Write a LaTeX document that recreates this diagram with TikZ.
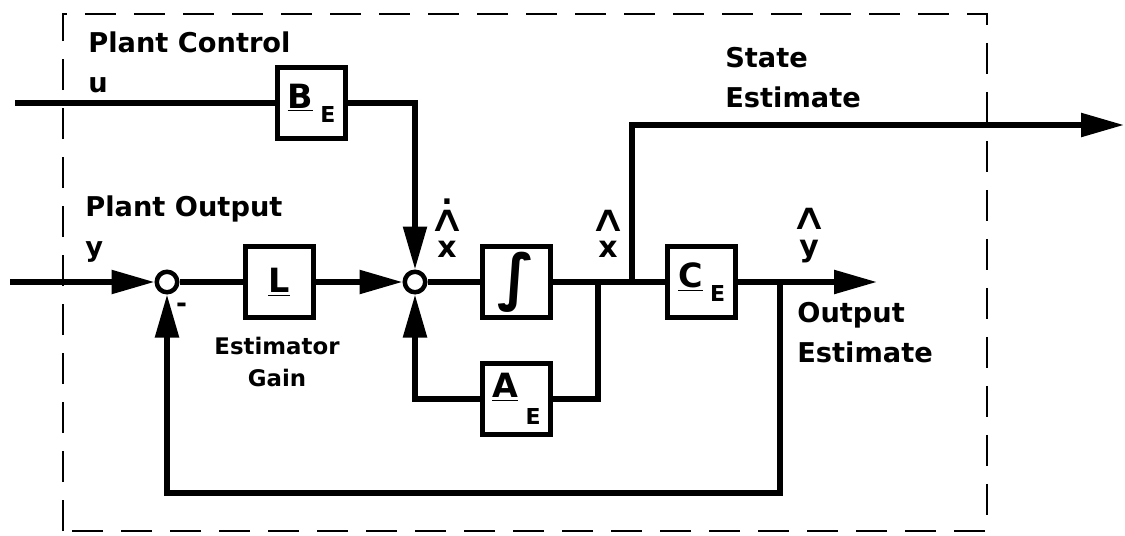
\documentclass[tikz,border=0pt]{standalone}
\usepackage{fontspec}
\usepackage{graphicx}
\setmainfont{DejaVu Sans}
\usetikzlibrary{positioning,arrows.meta,calc}
\tikzset{
  blk/.style={draw, line width=0.1cm, minimum width=1.36cm, minimum height=1.42cm,
    inner sep=0pt, font=\bfseries\fontsize{19}{19}\selectfont},
  sumpt/.style={circle, draw, line width=0.09cm, minimum size=0.41cm, inner sep=0pt},
  wire/.style={line width=0.11cm},
  sig/.style={wire, -{Triangle[length=0.86cm,width=0.46cm]}},
  lbl/.style={font=\bfseries\fontsize{15.5}{23}\selectfont, inner sep=0pt, align=left},
  gainlbl/.style={font=\bfseries\fontsize{13}{18}\selectfont, inner sep=0pt, align=center},
  hatlbl/.style={font=\bfseries\fontsize{17}{20}\selectfont, inner sep=0pt, align=center},
  frame/.style={line width=0.055cm, dash pattern=on 0.62cm off 0.36cm},
}
\newcommand{\subE}[1]{\hspace{0.15cm}\raisebox{#1}{\fontsize{12.5}{12.5}\selectfont E}}
\newcommand{\hatmark}{\scalebox{1.55}[1.1]{\mdseries\fontsize{19}{19}\selectfont ∧}}

\begin{document}
\begin{tikzpicture}[x=1cm,y=1cm]
\useasboundingbox (0,0) rectangle (22.5,10.7);
% estimator boundary
\draw[frame] (1.26,0.08) rectangle (19.74,10.42);
% blocks
\node[blk] (be) at (6.23,8.64) {\underline{B}\subE{-0.28cm}};
\node[sumpt] (sum1) at (3.34,5.06) {};
\node[blk] (gain) at (5.58,5.06) {\underline{L}};
\node[sumpt] (sum2) at (8.3,5.06) {};
\node[blk] (integ) at (10.33,5.06) {\fontsize{35}{35}\selectfont ∫};
\node[blk] (ae) at (10.33,2.72) {\underline{A}\subE{-0.55cm}};
\node[blk] (ce) at (14.03,5.06) {\underline{C}\subE{-0.28cm}};
% signal points
\coordinate (uin) at (0.3,8.64);
\coordinate (yin) at (0.2,5.06);
\coordinate (xtap) at (11.96,5.06);
\coordinate (stap) at (12.64,5.06);
\coordinate (xout) at (22.48,8.2);
\coordinate (ytap) at (15.6,5.06);
\coordinate (yout) at (17.54,5.06);
\coordinate (fbk) at (15.6,0.84);
% flows
\draw[wire] (uin) -- (be);
\draw[sig] (be) -| (sum2);
\draw[sig] (yin) -- (sum1);
\draw[wire] (sum1) -- (gain);
\draw[sig] (gain) -- (sum2);
\draw[wire] (sum2) -- (integ);
\draw[wire] (integ) -- (ce);
\draw[wire] (xtap) |- (ae);
\draw[sig] (ae) -| (sum2);
\draw[sig] (stap) |- (xout);
\draw[sig] (ce) -- (yout);
\draw[sig] (ytap) -- (fbk) -| (sum1);
% labels
\node[lbl, anchor=north west] (pc) at (1.76,10.08) {Plant Control\\u};
\node[lbl, anchor=north west] (po) at (1.7,6.8) {Plant Output\\y};
\node[lbl, anchor=north west] (se) at (14.5,9.76) {State\\Estimate};
\node[lbl, anchor=north west] (oe) at (15.94,4.66) {Output\\Estimate};
\node[gainlbl, anchor=north] (eg) at (5.54,3.96) {Estimator\\Gain};
\node[hatlbl, anchor=south] (xdot) at (8.94,5.54) {.\\[-5pt]\hatmark\\[-5pt]x};
\node[hatlbl, anchor=south] (xh) at (12.16,5.54) {\hatmark\\[-5pt]x};
\node[hatlbl, anchor=south] (yh) at (16.18,5.44) {\hatmark\\[-5pt]y};
\node[font=\bfseries\fontsize{15}{15}\selectfont, inner sep=0pt] (neg) at (3.63,4.54) {-};
\end{tikzpicture}
\end{document}
